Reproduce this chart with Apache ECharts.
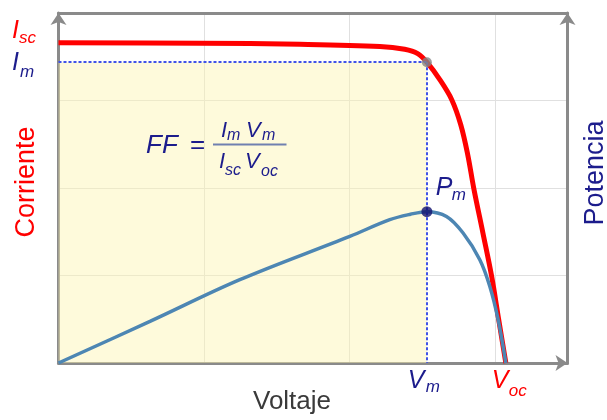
<!DOCTYPE html>
<html>
<head>
<meta charset="utf-8">
<script src="https://cdn.jsdelivr.net/npm/echarts@6/dist/echarts.min.js"></script>
<style>
html,body{margin:0;padding:0;background:#fff;}
#chart{width:607px;height:420px;}
</style>
</head>
<body>
<div id="chart"></div>
<script>
// ---- data ----
const voltageI = [0, 0.973, 1.66, 2.21, 2.38, 2.47, 2.533, 2.622, 2.704, 2.766, 2.814, 2.856, 2.918, 2.979, 3.027, 3.076];
const current  = [3.66, 3.655, 3.643, 3.618, 3.585, 3.535, 3.438, 3.238, 3.009, 2.723, 2.381, 1.992, 1.489, 0.986, 0.495, 0];
const voltageP = [0, 0.629, 1.247, 2.003, 2.278, 2.42, 2.533, 2.668, 2.782, 2.897, 2.966, 3.023, 3.076];
const power    = [0, 0.475, 0.952, 1.447, 1.638, 1.70, 1.73, 1.675, 1.486, 1.181, 0.875, 0.495, 0];
const Vm = 2.533, Im = 3.438, Isc = 3.66, Voc = 3.076, Pm = 1.73;
const xRange = [0, 3.5];
const yRange = [0, 4];

const RED = '#ff0000', NAVY = '#1c1c8c', GRAY = '#8a8a8a';
const FONT = 'Liberation Sans, Arial, sans-serif';

const chart = echarts.init(document.getElementById('chart'), null, {renderer: 'canvas'});

const curData = voltageI.map((v, i) => [v, current[i]]);
const powData = voltageP.map((v, i) => [v, power[i]]);

const axisLineStyle = {color: GRAY, width: 3};

chart.setOption({
  animation: false,
  grid: {left: 58.5, right: 39.5, top: 13, bottom: 57},
  xAxis: [
    {type: 'value', min: xRange[0], max: xRange[1], interval: 1, position: 'bottom',
     axisLine: {show: true, lineStyle: axisLineStyle, symbol: ['none', 'arrow'], symbolSize: [12, 12]},
     axisTick: {show: false}, axisLabel: {show: false},
     splitLine: {show: true, lineStyle: {color: '#e0e0e0', width: 1}}},
    {type: 'value', min: xRange[0], max: xRange[1], position: 'top',
     axisLine: {show: true, onZero: false, lineStyle: axisLineStyle},
     axisTick: {show: false}, axisLabel: {show: false}, splitLine: {show: false}}
  ],
  yAxis: [
    {type: 'value', min: yRange[0], max: yRange[1], interval: 1, position: 'left',
     axisLine: {show: true, onZero: false, lineStyle: axisLineStyle, symbol: ['none', 'arrow'], symbolSize: [12, 12]},
     axisTick: {show: false}, axisLabel: {show: false},
     splitLine: {show: true, lineStyle: {color: '#e0e0e0', width: 1}}},
    {type: 'value', min: yRange[0], max: yRange[1], interval: 1, position: 'right',
     axisLine: {show: true, onZero: false, lineStyle: axisLineStyle, symbol: ['none', 'arrow'], symbolSize: [12, 12]},
     axisTick: {show: false}, axisLabel: {show: false}, splitLine: {show: false}}
  ],
  series: [
    {
      name: 'Corriente', type: 'line', xAxisIndex: 0, yAxisIndex: 0,
      data: curData, smooth: 0.35, showSymbol: false,
      lineStyle: {color: RED, width: 5}, z: 3,
      markArea: {silent: true, itemStyle: {color: 'rgba(253,243,175,0.45)'},
        data: [[{coord: [0, 0]}, {coord: [Vm, Im]}]]},
      markLine: {silent: true, symbol: 'none', label: {show: false},
        lineStyle: {type: [3, 2], color: '#3f52e8', width: 2},
        data: [[{coord: [0, Im]}, {coord: [Vm, Im]}], [{coord: [Vm, Im]}, {coord: [Vm, 0]}]]}
    },
    {
      name: 'Potencia', type: 'line', xAxisIndex: 0, yAxisIndex: 1,
      data: powData, smooth: 0.35, showSymbol: false,
      lineStyle: {color: '#4d86b3', width: 3.5}, z: 4
    },
    {type: 'scatter', xAxisIndex: 0, yAxisIndex: 0, data: [[Vm, Im]], symbolSize: 10,
     itemStyle: {color: '#858585'}, z: 6},
    {type: 'scatter', xAxisIndex: 0, yAxisIndex: 1, data: [[Vm, Pm]], symbolSize: 11,
     itemStyle: {color: '#12126e'}, z: 6}
  ]
});

function px(x, y) { return chart.convertToPixel({xAxisIndex: 0, yAxisIndex: 0}, [x, y]); }

function txt(x, y, s, size, color, opts) {
  opts = opts || {};
  return {type: 'text', x: x, y: y, rotation: opts.rot || 0, z: 20, silent: true,
    style: {text: s, fill: color, font: (opts.italic === false ? '' : 'italic ') + size + 'px ' + FONT,
      textAlign: opts.align || 'left', textVerticalAlign: 'middle'}};
}
function subLabel(x, y, main, sub, color, mSize, sSize, subDx, subDy) {
  return [txt(x, y, main, mSize, color), txt(x + subDx, y + subDy, sub, sSize, color)];
}

const pIsc = px(0, Isc), pIm = px(0, Im), pVm = px(Vm, 0), pVoc = px(Voc, 0), pPm = px(Vm, Pm);

let g = [];
g = g.concat(subLabel(12, pIsc[1] - 12, 'I', 'sc', RED, 25, 17, 7, 8));
g = g.concat(subLabel(12, pIm[1] + 1, 'I', 'm', NAVY, 25, 17, 8, 9));
g = g.concat(subLabel(pVm[0] - 19, pVm[1] + 18, 'V', 'm', NAVY, 25, 17, 18, 6));
g = g.concat(subLabel(pVoc[0] - 14, pVoc[1] + 18, 'V', 'oc', RED, 25, 17, 17, 10));
g = g.concat(subLabel(pPm[0] + 9, pPm[1] - 24, 'P', 'm', NAVY, 25, 17, 16, 8));

// axis titles
g.push(txt(27, 182, 'Corriente', 27, RED, {italic: false, align: 'center', rot: Math.PI / 2}));
g.push(txt(596, 173, 'Potencia', 27, NAVY, {italic: false, align: 'center', rot: Math.PI / 2}));
g.push(txt(292, 402, 'Voltaje', 26, '#3a3a3a', {italic: false, align: 'center'}));

// FF formula
g.push(txt(146, 146, 'FF', 26, NAVY));
g.push(txt(190, 146, '=', 26, NAVY, {italic: false}));
g.push({type: 'line', z: 20, silent: true, shape: {x1: 213, y1: 144.5, x2: 286.5, y2: 144.5},
  style: {stroke: '#7080b0', lineWidth: 2}});
g = g.concat(subLabel(221, 131, 'I', 'm', NAVY, 22, 16, 6, 5));
g = g.concat(subLabel(246, 131, 'V', 'm', NAVY, 22, 16, 16, 5));
g = g.concat(subLabel(219, 162, 'I', 'sc', NAVY, 22, 16, 6, 9));
g = g.concat(subLabel(245, 162, 'V', 'oc', NAVY, 22, 16, 16, 10));

chart.setOption({graphic: {elements: g}});
</script>
</body>
</html>
